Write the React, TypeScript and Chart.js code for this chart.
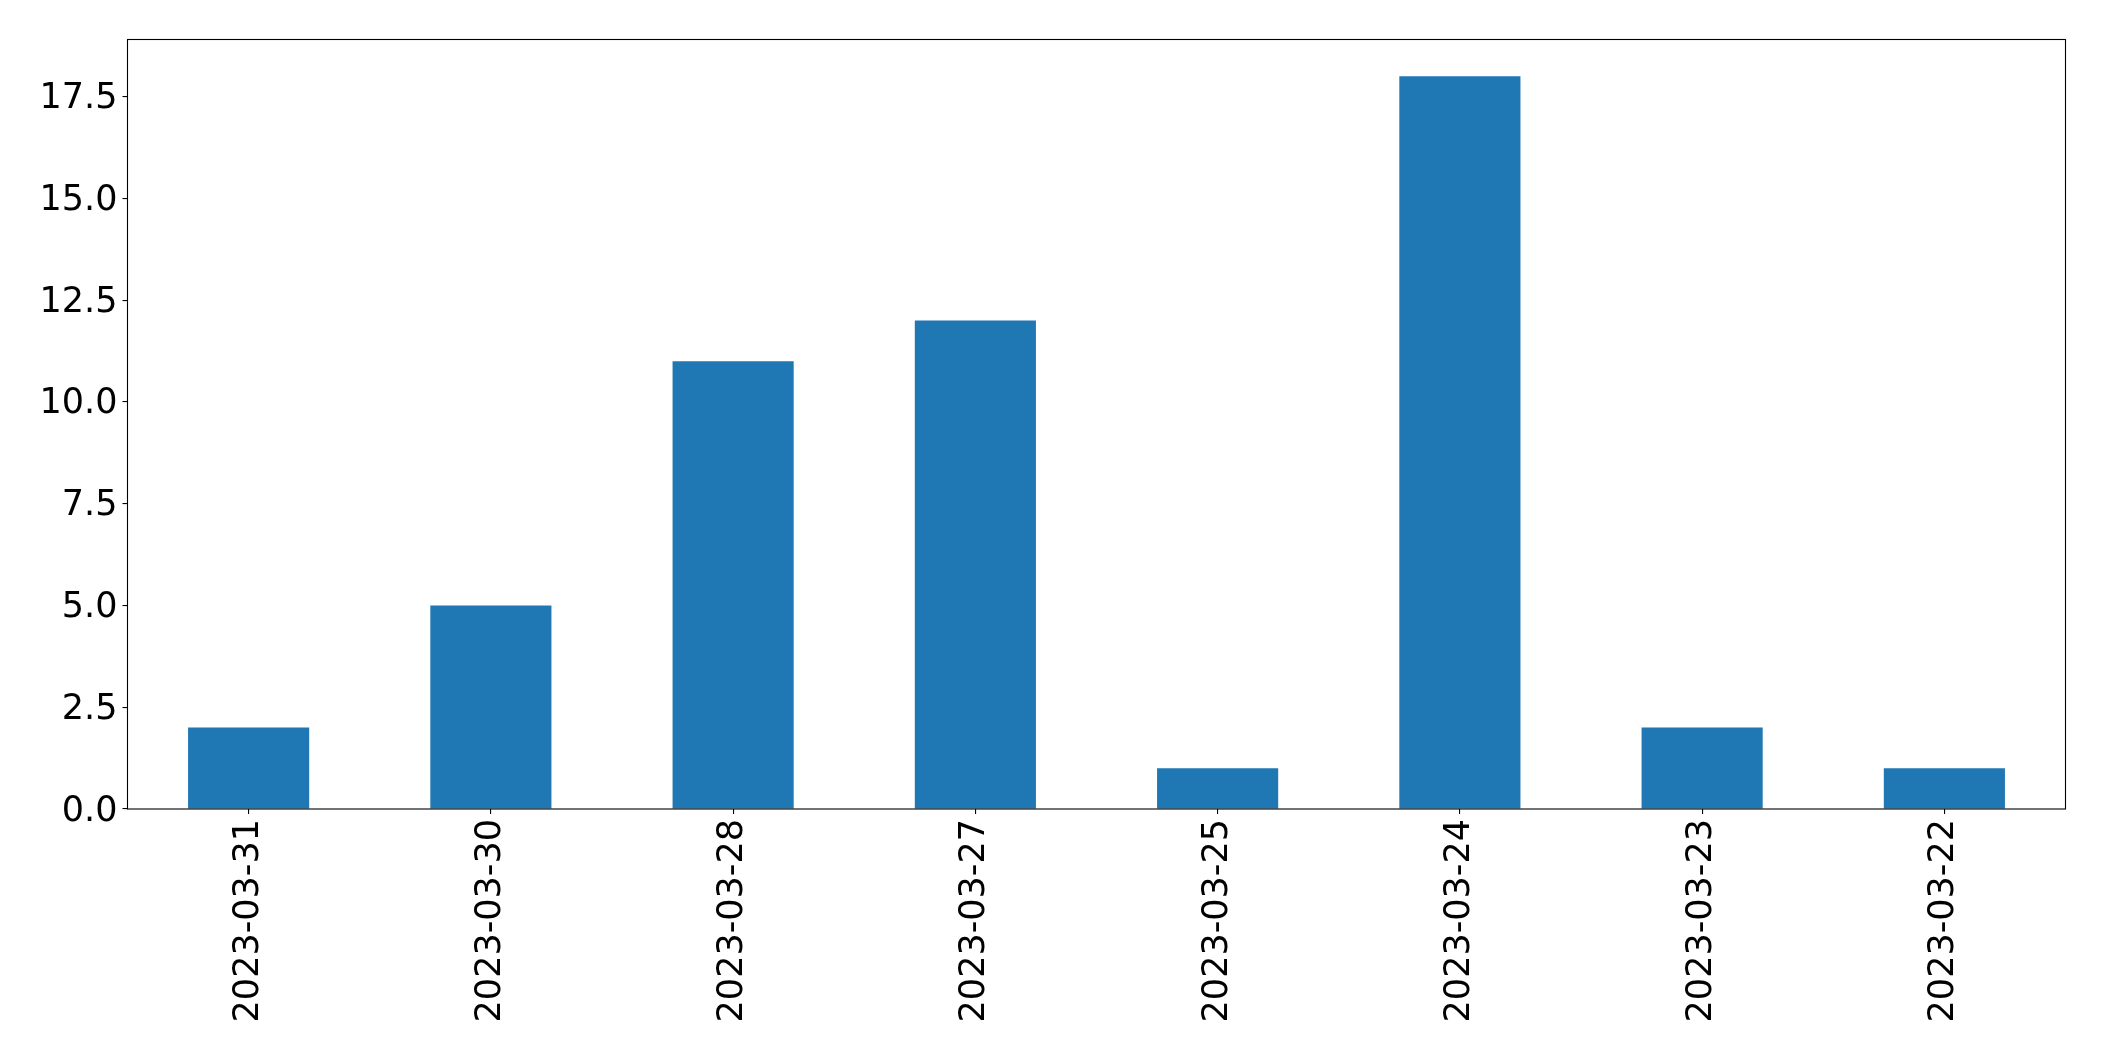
import React, { useEffect, useRef } from "react";
import { Chart, registerables } from "chart.js";

Chart.register(...registerables);

const categories = [
  "2023-03-31",
  "2023-03-30",
  "2023-03-28",
  "2023-03-27",
  "2023-03-25",
  "2023-03-24",
  "2023-03-23",
  "2023-03-22",
];
const counts = [2, 5, 11, 12, 1, 18, 2, 1];
const yTicks = [0, 2.5, 5, 7.5, 10, 12.5, 15, 17.5];
const yMax = 18.9;

const W = 2104;
const H = 1061;
const FONT = "'DejaVu Sans', sans-serif";

const framePlugin = {
  id: "frame",
  afterDraw(chart: any) {
    const { ctx, chartArea } = chart;
    ctx.save();
    ctx.strokeStyle = "#000";
    ctx.lineWidth = 1.1;
    ctx.strokeRect(
      chartArea.left,
      chartArea.top,
      chartArea.right - chartArea.left,
      chartArea.bottom - chartArea.top
    );
    ctx.restore();
  },
};

export default function App() {
  const ref = useRef<HTMLCanvasElement | null>(null);

  useEffect(() => {
    if (!ref.current) return;
    const chart = new Chart(ref.current, {
      type: "bar",
      data: {
        labels: categories,
        datasets: [
          {
            data: counts,
            backgroundColor: "#1f77b4",
            borderWidth: 0,
            categoryPercentage: 1,
            barPercentage: 0.5,
          },
        ],
      },
      options: {
        animation: false,
        responsive: false,
        devicePixelRatio: 1,
        layout: { padding: { left: 0, top: 39.5, right: 38.5, bottom: 0 } },
        plugins: {
          legend: { display: false },
          tooltip: { enabled: false },
        },
        scales: {
          x: {
            offset: true,
            border: { display: false },
            grid: {
              display: true,
              drawOnChartArea: false,
              drawTicks: true,
              tickLength: 5,
              tickColor: "#000",
              lineWidth: 1.1,
              offset: false,
            },
            ticks: {
              color: "#000",
              font: { family: FONT, size: 35 },
              maxRotation: 90,
              minRotation: 90,
              padding: 5,
              autoSkip: false,
            },
            afterFit(scale: any) {
              scale.height = H - 809;
            },
          },
          y: {
            min: 0,
            max: yMax,
            border: { display: false },
            grid: {
              display: true,
              drawOnChartArea: false,
              drawTicks: true,
              tickLength: 5,
              tickColor: "#000",
              lineWidth: 1.1,
            },
            ticks: {
              color: "#000",
              font: { family: FONT, size: 35 },
              padding: 5,
              labelOffset: 2.5,
              callback: (v: any) => Number(v).toFixed(1),
            },
            afterBuildTicks(scale: any) {
              scale.ticks = yTicks.map((v) => ({ value: v }));
            },
            afterFit(scale: any) {
              scale.width = 127.5;
            },
          },
        },
      },
      plugins: [framePlugin],
    });
    return () => chart.destroy();
  }, []);

  return (
    <div
      style={{
        position: "fixed",
        left: 0,
        top: 0,
        width: W,
        height: H,
        background: "#fff",
      }}
    >
      <canvas ref={ref} width={W} height={H} style={{ display: "block" }} />
    </div>
  );
}
